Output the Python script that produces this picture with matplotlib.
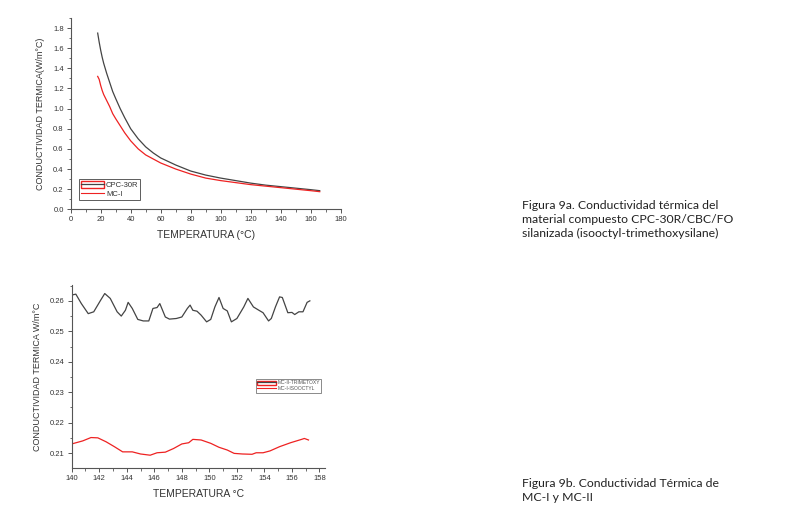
import matplotlib
matplotlib.use("Agg")
import matplotlib.pyplot as plt
from matplotlib.lines import Line2D
from matplotlib.patches import Patch
from matplotlib.ticker import MultipleLocator

plt.rcParams['font.family'] = ['Liberation Sans', 'DejaVu Sans']

# --- Figura 9a: conductividad vs temperatura ---
temp_cpc = [18, 19, 20, 21, 22, 24, 26, 28, 30, 33, 36, 40, 45, 50, 55, 60, 70, 80, 90, 100, 110, 120,
            130, 140, 150, 160, 166]
k_cpc = [1.75, 1.66, 1.58, 1.51, 1.45, 1.35, 1.26, 1.17, 1.10, 1.00, 0.91, 0.80, 0.70, 0.62, 0.56, 0.51,
         0.44, 0.38, 0.34, 0.31, 0.285, 0.26, 0.24, 0.225, 0.21, 0.195, 0.185]
temp_mci = [18, 19, 20, 21, 22, 24, 26, 28, 30, 33, 36, 40, 45, 50, 55, 60, 70, 80, 90, 100, 110, 120,
            130, 140, 150, 160, 166]
k_mci = [1.32, 1.29, 1.23, 1.18, 1.14, 1.08, 1.02, 0.95, 0.90, 0.83, 0.76, 0.68, 0.60, 0.54, 0.50, 0.46,
         0.40, 0.35, 0.31, 0.285, 0.265, 0.245, 0.23, 0.215, 0.20, 0.185, 0.175]

# --- Figura 9b: MC-I y MC-II ---
temp_trim = [140.0, 140.3, 140.7, 141.2, 141.6, 142.1, 142.4, 142.8, 143.3, 143.6, 143.9, 144.1, 144.4,
             144.8, 145.2, 145.6, 145.9, 146.2, 146.4, 146.8, 147.1, 147.6, 148.0, 148.4, 148.6, 148.8,
             149.1, 149.4, 149.8, 150.1, 150.4, 150.7, 151.0, 151.3, 151.6, 152.0, 152.5, 152.8, 153.2,
             153.6, 153.9, 154.3, 154.5, 154.8, 155.1, 155.3, 155.7, 156.0, 156.2, 156.5, 156.8, 157.1, 157.3]
k_trim = [0.2619, 0.2622, 0.2591, 0.2558, 0.2564, 0.2602, 0.2624, 0.2608, 0.2564, 0.2550, 0.2569, 0.2595,
          0.2575, 0.2539, 0.2534, 0.2534, 0.2575, 0.2578, 0.2591, 0.2547, 0.2540, 0.2542, 0.2547, 0.2575,
          0.2586, 0.2569, 0.2566, 0.2553, 0.2531, 0.2539, 0.2580, 0.2611, 0.2575, 0.2567, 0.2531, 0.2542,
          0.2580, 0.2608, 0.2580, 0.2569, 0.2561, 0.2534, 0.2542, 0.2580, 0.2613, 0.2611, 0.2561, 0.2562,
          0.2555, 0.2564, 0.2564, 0.2595, 0.2600]
temp_iso = [140.0, 140.8, 141.4, 141.9, 142.5, 143.1, 143.7, 144.4, 145.0, 145.7, 146.2, 146.8, 147.4,
            148.0, 148.5, 148.8, 149.4, 150.1, 150.7, 151.3, 151.8, 152.4, 153.1, 153.4, 153.9, 154.4,
            155.1, 155.9, 156.7, 156.9, 157.2]
k_iso = [0.2130, 0.2140, 0.2151, 0.2150, 0.2137, 0.2121, 0.2104, 0.2104, 0.2097, 0.2093, 0.2101, 0.2103,
         0.2115, 0.2130, 0.2134, 0.2145, 0.2143, 0.2132, 0.2119, 0.2110, 0.2099, 0.2097, 0.2096, 0.2101,
         0.2101, 0.2107, 0.2121, 0.2134, 0.2145, 0.2148, 0.2143]

TXT = '#333333'
LINE_BLACK = '#444444'
LINE_RED = '#ee2222'

fig = plt.figure(figsize=(7.95, 5.14), dpi=100)


def style_axis(ax):
    for s in ['top', 'right']:
        ax.spines[s].set_visible(False)
    for s in ['left', 'bottom']:
        ax.spines[s].set_linewidth(0.8)
        ax.spines[s].set_color('#555555')
    ax.tick_params(which='major', direction='out', length=3, width=0.7, labelsize=5.5,
                   colors='#555555', labelcolor=TXT, pad=2)
    ax.tick_params(which='minor', direction='out', length=1.8, width=0.6, colors='#555555')


# top chart
ax1 = fig.add_axes([0.0889, 0.5928, 0.3397, 0.3722])
ax1.plot(temp_cpc, k_cpc, color=LINE_BLACK, lw=0.9)
ax1.plot(temp_mci, k_mci, color=LINE_RED, lw=0.9)
ax1.set_xlim(0, 180)
ax1.set_ylim(0, 1.9)
ax1.set_xticks(range(0, 181, 20))
ax1.set_yticks([0.0, 0.2, 0.4, 0.6, 0.8, 1.0, 1.2, 1.4, 1.6, 1.8])
ax1.xaxis.set_minor_locator(MultipleLocator(10))
ax1.yaxis.set_minor_locator(MultipleLocator(0.1))
ax1.yaxis.set_major_formatter(matplotlib.ticker.FormatStrFormatter('%.1f'))
style_axis(ax1)
ax1.set_xlabel('TEMPERATURA (°C)', fontsize=7.5, color=TXT, labelpad=5)
ax1.set_ylabel('CONDUCTIVIDAD TERMICA(W/m°C)', fontsize=6.5, color=TXT, labelpad=6)
h1 = (Patch(facecolor='none', edgecolor=LINE_RED, lw=1.0), Line2D([], [], color=LINE_BLACK, lw=0.9))
h2 = Line2D([], [], color=LINE_RED, lw=0.8)
leg1 = ax1.legend([h1, h2], ['CPC-30R', 'MC-I'], loc='lower left', bbox_to_anchor=(0.03, 0.05),
                  fontsize=5.5, frameon=True, fancybox=False, handlelength=3.0, handleheight=1.1,
                  borderpad=0.25, labelspacing=0.1, handletextpad=0.3, borderaxespad=0)
leg1.get_frame().set_edgecolor('#333333')
leg1.get_frame().set_linewidth(0.7)
for t in leg1.get_texts():
    t.set_color(TXT)

# bottom chart
ax2 = fig.add_axes([0.0902, 0.0901, 0.3186, 0.3554])
ax2.plot(temp_trim, k_trim, color=LINE_BLACK, lw=0.9)
ax2.plot(temp_iso, k_iso, color=LINE_RED, lw=0.9)
ax2.set_xlim(140, 158.4)
ax2.set_ylim(0.2052, 0.2652)
ax2.set_xticks(range(140, 159, 2))
ax2.set_yticks([0.21, 0.22, 0.23, 0.24, 0.25, 0.26])
ax2.xaxis.set_minor_locator(MultipleLocator(1))
ax2.yaxis.set_minor_locator(MultipleLocator(0.005))
style_axis(ax2)
ax2.set_xlabel('TEMPERATURA °C', fontsize=7.5, color=TXT, labelpad=5)
ax2.set_ylabel('CONDUCTIVIDAD TERMICA W/m°C', fontsize=6.5, color=TXT, labelpad=6)
h3 = (Patch(facecolor='none', edgecolor=LINE_RED, lw=1.0), Line2D([], [], color=LINE_BLACK, lw=0.9))
h4 = Line2D([], [], color=LINE_RED, lw=0.8)
leg2 = ax2.legend([h3, h4], ['MC-II-TRIMETOXY', 'MC-I-ISOOCTYL'], loc='upper right',
                  bbox_to_anchor=(0.985, 0.485), fontsize=3.6, frameon=True, fancybox=False,
                  handlelength=3.8, handleheight=0.9, borderpad=0.25, labelspacing=0.2,
                  handletextpad=0.3, borderaxespad=0)
leg2.get_frame().set_edgecolor('#555555')
leg2.get_frame().set_linewidth(0.6)
for t in leg2.get_texts():
    t.set_color('#555555')

# captions
cap_font = ['Lato', 'DejaVu Sans']
fig.text(522 / 795, 1 - 200 / 514,
         'Figura 9a. Conductividad térmica del\nmaterial compuesto CPC-30R/CBC/FO\nsilanizada (isooctyl-trimethoxysilane)',
         fontsize=8.8, family=cap_font, color='#222222', va='top', ha='left', linespacing=1.33)
fig.text(522 / 795, 1 - 478 / 514, 'Figura 9b. Conductividad Térmica de\nMC-I y MC-II',
         fontsize=8.8, family=cap_font, color='#222222', va='top', ha='left', linespacing=1.33)

fig.savefig('out.png', dpi=100)
